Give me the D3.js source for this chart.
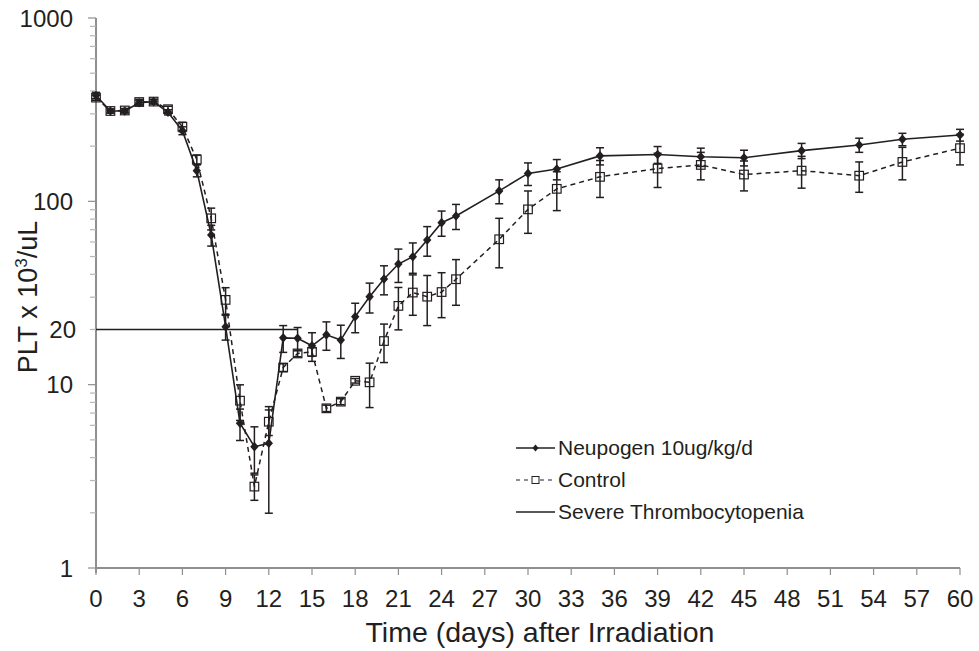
<!DOCTYPE html>
<html><head><meta charset="utf-8">
<script src="https://cdn.jsdelivr.net/npm/d3@7"></script>
<style>
body{margin:0;background:#fff;}
text{font-family:"Liberation Sans",Arial,Helvetica,sans-serif;fill:#231f20;}
</style>
</head><body>
<svg id="chart" width="979" height="651"></svg>
<script>
// ---- data ----
const days = [0,1,2,3,4,5,6,7,8,9,10,11,12,13,14,15,16,17,18,19,20,21,22,23,24,25,28,30,32,35,39,42,45,49,53,56,60];
const neupogen = [378,311,311,345,350,306,243,147,65.5,20.7,6.16,4.59,4.79,18.0,17.9,16.3,18.7,17.5,23.5,30.2,37.7,45.5,49.9,61.5,76.5,83.2,114,142,150,177,180,175,173,189,203,218,230];
const neupogenSD = [15,8,8,10,10,10,12,11,8.5,3.2,1.2,1.3,2.8,3.0,2.6,2.9,3.3,3.6,4.3,5.6,6.8,9.4,9.4,11.3,12,13,17,20,19,19,19,20,17,18,18,17,17];
const control = [368,311,313,348,350,318,255,169,80.8,29.0,8.18,2.78,6.28,12.4,14.8,15.1,7.43,8.08,10.5,10.3,17.3,26.9,31.8,30.2,32.0,37.6,62.1,90.4,117,136,151,158,140,147,138,164,195];
const controlSD = [12,8,8,12,10,12,15,10,11,4.8,1.8,0.44,1.0,0.6,0.6,0.8,0.3,0.3,0.3,2.8,4.1,7,7.9,9.2,8.8,10.5,18.7,23.5,28,31,32,27,26,29,26,33,37];
const severeLevel = 20;
const severeDays = [0,14];
const xTickValues = [0,3,6,9,12,15,18,21,24,27,30,33,36,39,42,45,48,51,54,57,60];
const yTickLabels = [1,10,20,100,1000];
const legendLabels = ["Neupogen 10ug/kg/d","Control","Severe Thrombocytopenia"];

// ---- layout ----
const svg = d3.select("#chart");
const L = 96, R = 960, T = 18, B = 568;
const x = d3.scaleLinear().domain([0,60]).range([L,R]);
const y = d3.scaleLog().domain([1,1000]).range([B,T]);
const ink = "#231f20", axisGray = "#8f8f8f";

// axes
const yAxis = svg.append("g");
yAxis.append("line").attr("x1",L).attr("x2",L).attr("y1",T).attr("y2",B+5)
  .attr("stroke",axisGray).attr("stroke-width",2);
y.ticks().forEach(v=>{
  const major = [1,10,100,1000].includes(v);
  yAxis.append("line").attr("x1",major?88:90).attr("x2",L).attr("y1",y(v)).attr("y2",y(v))
    .attr("stroke",major?axisGray:"#b5b5b5").attr("stroke-width",1.2);
});
yTickLabels.forEach(v=>{
  yAxis.append("text").attr("x",v===20?76:73).attr("y",y(v)).attr("dy","0.36em")
    .attr("text-anchor","end").attr("font-size",24).text(v);
});

const xAxis = svg.append("g");
xAxis.append("line").attr("x1",L).attr("x2",R).attr("y1",B).attr("y2",B)
  .attr("stroke",axisGray).attr("stroke-width",2);
xTickValues.forEach(v=>{
  xAxis.append("line").attr("x1",x(v)).attr("x2",x(v)).attr("y1",B).attr("y2",B+7)
    .attr("stroke",axisGray).attr("stroke-width",1.2);
  xAxis.append("text").attr("x",x(v)).attr("y",607).attr("text-anchor","middle")
    .attr("font-size",24).text(v);
});

// titles
svg.append("text").attr("x",540).attr("y",642).attr("text-anchor","middle")
  .attr("font-size",28.5).text("Time (days) after Irradiation");
const yt = svg.append("text").attr("transform","translate(37,297) rotate(-90)")
  .attr("text-anchor","middle").attr("font-size",27);
yt.append("tspan").text("PLT x 10");
yt.append("tspan").attr("font-size",17).attr("dy",-10).text("3");
yt.append("tspan").attr("dy",10).text("/uL");

// severe thrombocytopenia line
svg.append("line").attr("x1",x(severeDays[0])).attr("x2",x(severeDays[1]))
  .attr("y1",y(severeLevel)).attr("y2",y(severeLevel)).attr("stroke",ink).attr("stroke-width",1.4);

const cap = 4;
function errorBars(vals, sds){
  const g = svg.append("g").attr("stroke",ink).attr("stroke-width",1.5);
  days.forEach((d,i)=>{
    const hi = vals[i]+sds[i], lo = Math.max(vals[i]-sds[i], 1.001);
    const cx = x(d);
    g.append("line").attr("x1",cx).attr("x2",cx).attr("y1",y(hi)).attr("y2",y(lo));
    g.append("line").attr("x1",cx-cap).attr("x2",cx+cap).attr("y1",y(hi)).attr("y2",y(hi));
    g.append("line").attr("x1",cx-cap).attr("x2",cx+cap).attr("y1",y(lo)).attr("y2",y(lo));
  });
}
const line = d3.line().x(d=>x(d[0])).y(d=>y(d[1]));
const ctrlPts = days.map((d,i)=>[d,control[i]]);
const neuPts = days.map((d,i)=>[d,neupogen[i]]);

// control series
errorBars(control, controlSD);
svg.append("path").datum(ctrlPts).attr("d",line).attr("fill","none")
  .attr("stroke",ink).attr("stroke-width",1.5).attr("stroke-dasharray","5,4");
// neupogen series
errorBars(neupogen, neupogenSD);
svg.append("path").datum(neuPts).attr("d",line).attr("fill","none")
  .attr("stroke",ink).attr("stroke-width",1.6);

const diamond = "M0,-4.8L4.2,0L0,4.8L-4.2,0Z";
const sq = 4.3;
svg.append("g").selectAll("rect").data(ctrlPts).join("rect")
  .attr("x",d=>x(d[0])-sq).attr("y",d=>y(d[1])-sq).attr("width",sq*2).attr("height",sq*2)
  .attr("fill","none").attr("stroke",ink).attr("stroke-width",1.2);
svg.append("g").selectAll("path").data(neuPts).join("path")
  .attr("transform",d=>`translate(${x(d[0])},${y(d[1])})`).attr("d",diamond).attr("fill",ink);

// legend
const lg = svg.append("g");
const lx1 = 516, lx2 = 555, ltx = 558, rows = [448, 480, 512];
lg.append("line").attr("x1",lx1).attr("x2",lx2).attr("y1",rows[0]).attr("y2",rows[0]).attr("stroke",ink).attr("stroke-width",1.4);
lg.append("path").attr("transform",`translate(${(lx1+lx2)/2},${rows[0]})`).attr("d","M0,-3.5L3,0L0,3.5L-3,0Z").attr("fill",ink);
lg.append("line").attr("x1",lx1).attr("x2",lx2).attr("y1",rows[1]).attr("y2",rows[1]).attr("stroke",ink).attr("stroke-width",1.2).attr("stroke-dasharray","4,4");
lg.append("rect").attr("x",(lx1+lx2)/2-3.5).attr("y",rows[1]-3.5).attr("width",7).attr("height",7).attr("fill","#fff").attr("stroke",ink).attr("stroke-width",1);
lg.append("line").attr("x1",lx1).attr("x2",lx2).attr("y1",rows[2]).attr("y2",rows[2]).attr("stroke",ink).attr("stroke-width",1.4);
legendLabels.forEach((t,i)=>{
  lg.append("text").attr("x",ltx).attr("y",rows[i]).attr("dy","0.35em").attr("font-size",21).text(t);
});
</script>
</body></html>
